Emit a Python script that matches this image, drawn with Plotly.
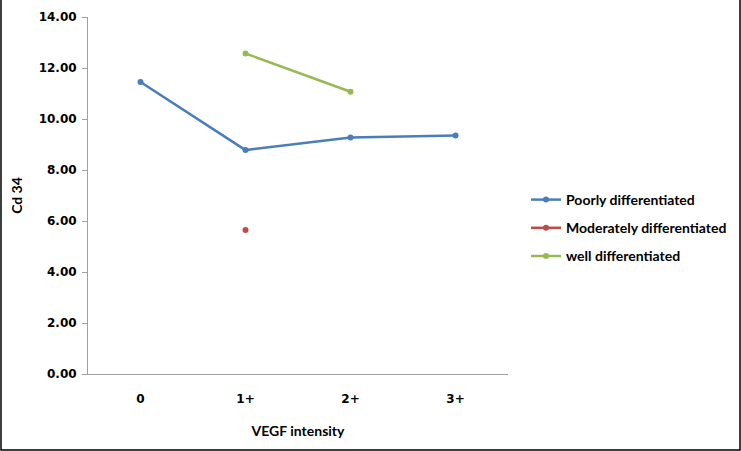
import plotly.graph_objects as go

categories = ["0", "1+", "2+", "3+"]
poorly = [11.45, 8.78, 9.27, 9.35]
moderately = [None, 5.65, None, None]
well = [None, 12.57, 11.07, None]
y_ticks = [0, 2, 4, 6, 8, 10, 12, 14]

fig = go.Figure()
series = [
    ("Poorly differentiated", poorly, "#4a7ebb"),
    ("Moderately differentiated", moderately, "#be4b48"),
    ("well differentiated", well, "#98b954"),
]
for name, vals, color in series:
    fig.add_trace(go.Scatter(x=categories, y=vals, mode="lines+markers", name="<b>%s</b>" % name,
                             legendgroup=name, line=dict(color=color, width=2.5), marker=dict(size=6)))

W, H = 741, 451
L, R, T, B = 88, 233, 17, 77
pw, ph = W - L - R, H - T - B

fig.update_layout(
    width=W, height=H,
    margin=dict(l=L, r=R, t=T, b=B, autoexpand=False),
    paper_bgcolor="white", plot_bgcolor="white",
    font=dict(family="DejaVu Sans", color="black"),
    legend=dict(x=(526 - 88) / pw, y=(374 - 228) / ph, xanchor="left", yanchor="middle",
                font=dict(family="Lato", size=14, color="black"), traceorder="grouped",
                tracegroupgap=7, itemwidth=30),
    showlegend=True,
)
fig.update_xaxes(
    type="category", range=[-0.5, 3.5], showgrid=False, showline=True, linecolor="#a0a0a0",
    linewidth=1, ticks="", tickfont=dict(size=12), automargin=False, ticklabelstandoff=14,
    ticktext=["<b>%s</b>" % c for c in categories], tickvals=categories,
    title=dict(text="<b>VEGF intensity</b>", font=dict(family="Lato", size=14), standoff=20),
)
fig.update_yaxes(
    range=[0, 14], showgrid=False, showline=True, linecolor="#a0a0a0",
    linewidth=1, ticks="outside", ticklen=5, tickcolor="#a0a0a0", tickfont=dict(size=12),
    zeroline=False, automargin=False, ticklabelstandoff=3,
    tickvals=y_ticks, ticktext=["<b>%.2f</b>" % v for v in y_ticks],
    title=dict(text="<b>Cd 34</b>", font=dict(family="Lato", size=14), standoff=12),
)

fig.add_shape(type="rect", xref="paper", yref="paper",
              x0=(-L + 1) / pw, x1=(W - L - 1) / pw, y0=(-B + 1) / ph, y1=(H - T - 1) / ph,
              line=dict(color="black", width=1.5))

fig.write_html("out.html", config={"displayModeBar": False},
               post_script="document.body.style.margin='0';")
